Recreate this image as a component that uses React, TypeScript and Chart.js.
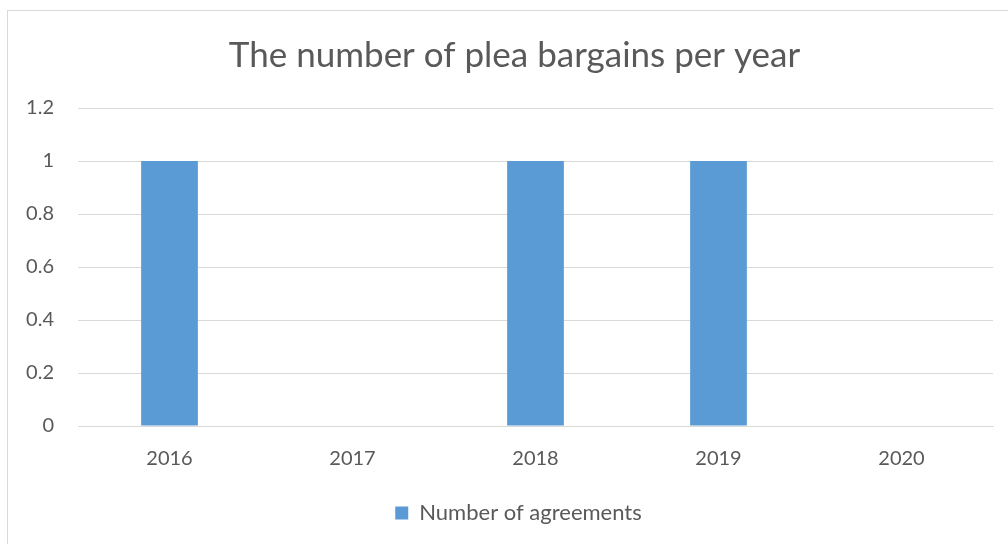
import React, { useEffect, useRef } from "react";
import { Chart, registerables } from "chart.js";

Chart.register(...registerables);

const categories: string[] = ["2016", "2017", "2018", "2019", "2020"];
const agreements: number[] = [1, 0, 1, 1, 0];
const seriesLabel = "Number of agreements";
const chartTitle = "The number of plea bargains per year";

const TEXT = "#595959";
const GRID = "#d9d9d9";
const BAR = "#5b9bd5";
const FONT = "Lato, 'Open Sans', sans-serif";

// The reference centres its title and legend on the whole chart frame, a little right of the canvas centre.
const shiftBoxes = {
  id: "shiftBoxes",
  afterLayout(chart: any) {
    if (chart.titleBlock) {
      chart.titleBlock.left += 36;
    }
    if (chart.legend) {
      chart.legend.left += 44;
    }
  },
};

export default function App() {
  const ref = useRef<HTMLCanvasElement | null>(null);
  useEffect(() => {
    if (!ref.current) return;
    const chart = new Chart(ref.current, {
      type: "bar",
      data: {
        labels: categories,
        datasets: [
          {
            label: seriesLabel,
            data: agreements,
            backgroundColor: BAR,
            borderWidth: 0,
            barPercentage: 0.31,
            categoryPercentage: 1,
          },
        ],
      },
      options: {
        animation: false,
        responsive: true,
        maintainAspectRatio: false,
        layout: { padding: { left: 0, right: 15, top: 0, bottom: 10 } },
        plugins: {
          title: {
            display: true,
            text: chartTitle,
            color: TEXT,
            font: { family: FONT, size: 35, weight: "normal" },
            padding: { top: 35, bottom: 31 },
          },
          legend: {
            position: "bottom",
            labels: {
              color: TEXT,
              font: { family: FONT, size: 22 },
              boxWidth: 13,
              boxHeight: 13,
              padding: 10,
            },
          },
          tooltip: { enabled: false },
        },
        scales: {
          x: {
            grid: { display: false, drawTicks: false },
            border: { display: true, color: GRID, width: 1 },
            ticks: { color: TEXT, font: { family: FONT, size: 20 }, padding: 21 },
          },
          y: {
            min: 0,
            max: 1.2,
            afterFit: (s: any) => {
              s.width = 78;
            },
            grid: { color: GRID, drawTicks: false },
            border: { display: false },
            ticks: {
              stepSize: 0.2,
              color: TEXT,
              font: { family: FONT, size: 20 },
              padding: 24,
              callback: (v: any) => String(Math.round(Number(v) * 10) / 10),
            },
          },
        },
      },
      plugins: [shiftBoxes],
    });
    return () => chart.destroy();
  }, []);
  return (
    <div style={{ position: "fixed", left: 0, top: 0, width: 1008, height: 544, overflow: "hidden", background: "#fff" }}>
      <div
        style={{
          position: "absolute",
          left: 7,
          top: 10,
          width: 1020,
          height: 560,
          border: "1px solid #d9d9d9",
          boxSizing: "border-box",
        }}
      />
      <div style={{ position: "absolute", left: 0, top: 0, width: 1008, height: 544 }}>
        <canvas ref={ref} />
      </div>
    </div>
  );
}
